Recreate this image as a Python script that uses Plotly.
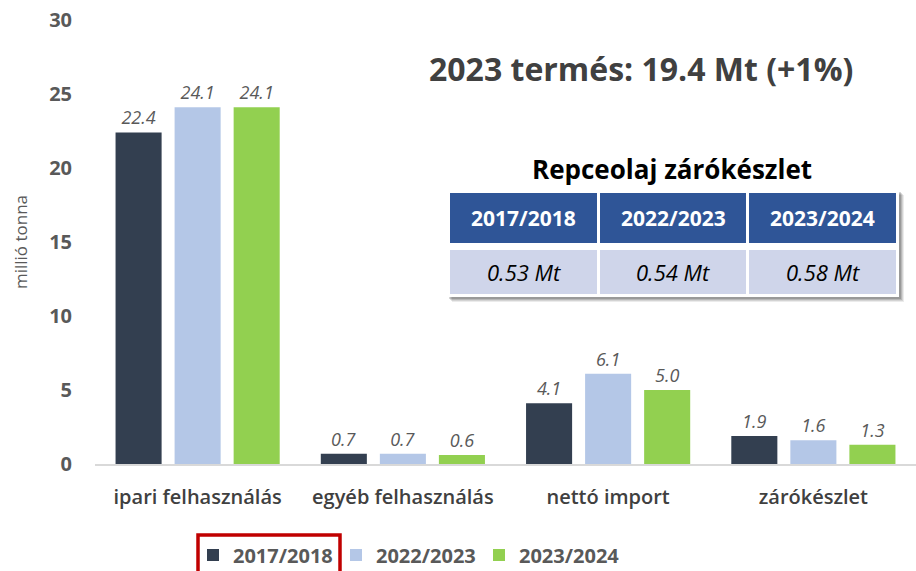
import plotly.graph_objects as go

categories = ["ipari felhasználás", "egyéb felhasználás", "nettó import", "zárókészlet"]
series_names = ["2017/2018", "2022/2023", "2023/2024"]
values_2017 = [22.4, 0.7, 4.1, 1.9]
values_2022 = [24.1, 0.7, 6.1, 1.6]
values_2023 = [24.1, 0.6, 5.0, 1.3]
series_colors = ["#333F50", "#B4C7E7", "#92D050"]

table_headers = ["2017/2018", "2022/2023", "2023/2024"]
table_values = ["0.53 Mt", "0.54 Mt", "0.58 Mt"]

W, H = 916, 571
ML, MR, MT, MB = 95, 0, 20, 107
PW, PH = W - ML - MR, H - MT - MB
FONT = "Open Sans"


def px(x):
    return (x - ML) / PW


def py(y):
    return (H - MB - y) / PH


fig = go.Figure()
for name, vals, col in zip(series_names, [values_2017, values_2022, values_2023], series_colors):
    fig.add_trace(go.Bar(
        name=name, x=categories, y=vals, marker=dict(color=col, line=dict(width=0)),
        texttemplate="%{y:.1f}", textposition="outside", cliponaxis=False,
        textfont=dict(family=FONT, size=18, color="#595959", style="italic"),
    ))

shapes = []
# table shadow
for off, op in [(5, 0.08), (4, 0.10), (3, 0.13), (2, 0.16)]:
    shapes.append(dict(type="rect", xref="paper", yref="paper", layer="above",
                       x0=px(447 + off), x1=px(899 + off), y0=py(297 + off), y1=py(190 + off),
                       fillcolor=f"rgba(0,0,0,{op})", line=dict(width=0)))
shapes.append(dict(type="rect", xref="paper", yref="paper", layer="above",
                   x0=px(447), x1=px(899), y0=py(297), y1=py(190),
                   fillcolor="white", line=dict(width=0)))
col_edges = [(450, 597), (600, 746), (749, 896)]
annotations = []
for (x0, x1), head, val in zip(col_edges, table_headers, table_values):
    shapes.append(dict(type="rect", xref="paper", yref="paper", layer="above",
                       x0=px(x0), x1=px(x1), y0=py(243), y1=py(193),
                       fillcolor="#2F5597", line=dict(width=0)))
    shapes.append(dict(type="rect", xref="paper", yref="paper", layer="above",
                       x0=px(x0), x1=px(x1), y0=py(294), y1=py(250),
                       fillcolor="#CFD5EA", line=dict(width=0)))
    annotations.append(dict(xref="paper", yref="paper", x=px((x0 + x1) / 2), y=py(218),
                            xanchor="center", yanchor="middle",
                            text=f"<b>{head}</b>", showarrow=False,
                            font=dict(family=FONT, size=21, color="white")))
    annotations.append(dict(xref="paper", yref="paper", x=px((x0 + x1) / 2), y=py(272),
                            xanchor="center", yanchor="middle",
                            text=f"<i>{val}</i>", showarrow=False,
                            font=dict(family=FONT, size=22, color="black")))

annotations.append(dict(xref="paper", yref="paper", x=px(672), y=py(169),
                        xanchor="center", yanchor="middle",
                        text="<b>Repceolaj zárókészlet</b>", showarrow=False,
                        font=dict(family=FONT, size=26, color="black")))
annotations.append(dict(xref="paper", yref="paper", x=px(641), y=py(68),
                        xanchor="center", yanchor="middle",
                        text="<b>2023 termés: 19.4 Mt (+1%)</b>", showarrow=False,
                        font=dict(family=FONT, size=32, color="#404040")))

# red highlight around first legend item
shapes.append(dict(type="rect", xref="paper", yref="paper", layer="above",
                   x0=px(198), x1=px(340), y0=py(578), y1=py(535),
                   line=dict(color="#C00000", width=3.5), fillcolor="rgba(0,0,0,0)"))

fig.update_layout(
    width=W, height=H, margin=dict(l=ML, r=MR, t=MT, b=MB, autoexpand=False),
    paper_bgcolor="white", plot_bgcolor="white",
    barmode="group", bargap=0.137, bargroupgap=0.22,
    font=dict(family=FONT, color="#595959"),
    shapes=shapes, annotations=annotations,
    legend=dict(orientation="h", x=px(193), y=py(555), xanchor="left", yanchor="middle",
                font=dict(family=FONT, size=20, color="#595959", weight="bold"),
                entrywidth=98, entrywidthmode="pixels", traceorder="normal",
                itemclick=False, bgcolor="rgba(0,0,0,0)"),
    xaxis=dict(showline=True, linecolor="#D9D9D9", linewidth=1.5, ticks="",
               tickfont=dict(family=FONT, size=20, color="#404040", weight=600),
               ticklabelstandoff=14, fixedrange=True),
    yaxis=dict(range=[0, 30], dtick=5, showgrid=False, zeroline=False, showline=False,
               tickfont=dict(family=FONT, size=20, color="#595959", weight="bold"),
               ticklabelstandoff=22,
               title=dict(text="millió tonna", font=dict(family=FONT, size=17, color="#595959"),
                          standoff=17),
               fixedrange=True),
)

fig.write_html("out.html", config={"displayModeBar": False},
               post_script="document.body.style.margin='0';")
